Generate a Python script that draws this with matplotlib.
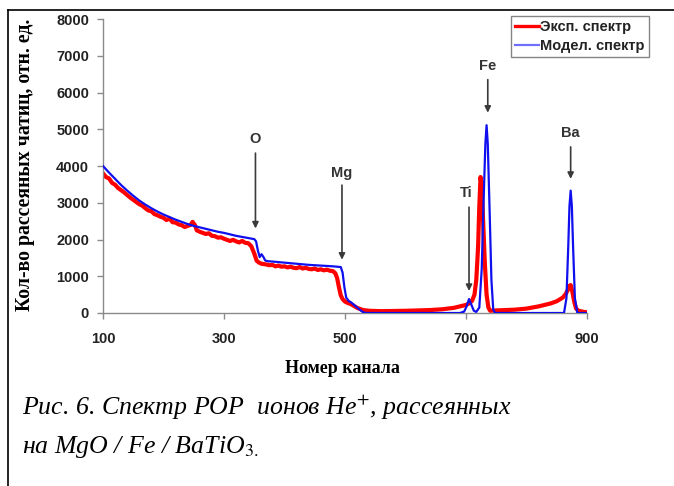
import matplotlib
matplotlib.use("Agg")
import matplotlib.pyplot as plt
from matplotlib.lines import Line2D

plt.rcParams['mathtext.fontset'] = 'stix'

# experimental spectrum (channel, counts)
exp_ch = [100, 105, 110, 115, 120, 125, 130, 135, 140, 145, 150, 155, 160, 165, 170,
          175, 180, 185, 190, 195, 200, 205, 210, 215, 220, 225, 230, 235, 240, 245,
          248, 252, 255, 260, 265, 270, 275, 280, 285, 290, 295, 300, 305, 310, 315,
          320, 325, 330, 335, 340, 345, 350, 354, 358, 362, 366, 370, 375, 380, 385,
          390, 395, 400, 405, 410, 415, 420, 425, 430, 435, 440, 445, 450, 455, 460,
          465, 470, 475, 480, 484, 487, 490, 493, 496, 500, 505, 510, 515, 520, 525,
          530, 540, 560, 600, 640, 660, 680, 690, 700, 705, 710, 714, 717, 720, 722,
          724, 726, 728, 731, 734, 737, 740, 750, 780, 800, 820, 840, 850, 860, 865,
          868, 871, 873, 876, 879, 882, 886, 895, 900]
exp_counts = [3800, 3700, 3660, 3540, 3490, 3400, 3340, 3280, 3210, 3140, 3080, 3020, 2960, 2920, 2850,
              2790, 2770, 2690, 2660, 2620, 2590, 2530, 2570, 2470, 2460, 2410, 2390, 2340, 2370, 2400,
              2480, 2390, 2250, 2210, 2180, 2150, 2170, 2100, 2090, 2050, 2060, 2020, 1990, 1960, 1990,
              1950, 1920, 1960, 1910, 1900, 1820, 1620, 1420, 1370, 1340, 1330, 1320, 1300, 1310, 1270,
              1290, 1260, 1270, 1240, 1260, 1230, 1220, 1250, 1210, 1230, 1200, 1190, 1210, 1170, 1190,
              1160, 1180, 1150, 1140, 1080, 950, 700, 480, 380, 310, 270, 240, 190, 140, 110,
              80, 60, 50, 60, 80, 100, 140, 180, 220, 260, 330, 500, 900, 1800, 2900,
              3700, 3450, 2600, 1400, 500, 150, 60, 70, 90, 120, 180, 260, 320, 420, 520,
              620, 740, 760, 560, 300, 120, 60, 30, 20]

# model spectrum (channel, counts)
mod_ch = [100, 110, 120, 130, 140, 150, 160, 170, 180, 190, 200, 210, 220, 230, 240,
          250, 260, 270, 280, 290, 300, 310, 320, 330, 340, 350, 353, 356, 359, 362,
          365, 368, 372, 380, 400, 420, 440, 460, 480, 493, 496, 499, 502, 506, 510,
          515, 520, 525, 530, 535, 690, 697, 701, 705, 709, 713, 717, 722, 726, 729,
          732, 734, 736, 739, 742, 745, 748, 862, 866, 869, 871, 873, 875, 877, 880,
          884, 900]
mod_counts = [4000, 3820, 3650, 3480, 3330, 3190, 3060, 2950, 2850, 2760, 2680, 2610, 2540, 2480, 2420,
              2370, 2330, 2290, 2250, 2210, 2180, 2140, 2100, 2070, 2040, 2010, 1950, 1700, 1520, 1600,
              1530, 1430, 1410, 1400, 1370, 1340, 1310, 1290, 1270, 1250, 1100, 700, 420, 330, 290,
              220, 150, 80, 20, 0, 0, 40, 180, 380, 220, 60, 30, 150, 1200, 3000,
              4600, 5110, 4600, 2800, 900, 100, 0, 0, 400, 1800, 2900, 3330, 2900, 1800, 400,
              0, 0]

series_labels = ['Эксп. спектр', 'Модел. спектр']

# element edges / peaks
elements = ['O', 'Mg', 'Ti', 'Fe', 'Ba']
element_ch = [352, 495, 705, 736, 873]

x_ticks = [100, 300, 500, 700, 900]
y_ticks = list(range(0, 8001, 1000))

fig = plt.figure(figsize=(6.74, 4.86), dpi=100)
ax = fig.add_axes([103 / 674, 1 - 313 / 486, 484 / 674, 294 / 486])

ax.plot(exp_ch, exp_counts, color='#ff0000', lw=3.0, zorder=2)
ax.plot(mod_ch, mod_counts, color='#1010ee', lw=1.6, zorder=3)

ax.set_xlim(100, 900)
ax.set_ylim(0, 8000)
ax.set_xticks(x_ticks)
ax.set_yticks(y_ticks)
for s in ['top', 'right']:
    ax.spines[s].set_visible(False)
for s in ['left', 'bottom']:
    ax.spines[s].set_color('#8a8a8a')
    ax.spines[s].set_linewidth(1.0)
ax.tick_params(axis='both', colors='#8a8a8a', length=4, width=1.0,
               labelcolor='#222222', labelsize=10.5)
ax.tick_params(axis='x', pad=10)
ax.tick_params(axis='y', pad=6)
for lab in ax.get_xticklabels() + ax.get_yticklabels():
    lab.set_fontfamily('Liberation Sans')
    lab.set_fontweight('bold')

fig.text(342 / 674, 1 - 373 / 486, 'Номер канала', family='Liberation Serif',
         fontweight='bold', fontsize=13, ha='center', va='baseline')
fig.text(25 / 674, 1 - 165 / 486, 'Кол-во рассеяных чатиц, отн. ед.',
         family='Liberation Serif', fontweight='bold', fontsize=14.2,
         rotation=90, ha='center', va='center')

# arrows with element names
label_y = [4730, 3810, 3260, 6720, 4900]
arrow_from = [4350, 3480, 2880, 6350, 4520]
arrow_to = [2300, 1450, 600, 5450, 3650]
label_dx = [0, 0, -4, 0, 0]
for name, ch, ly, a0, a1, dx in zip(elements, element_ch, label_y, arrow_from, arrow_to, label_dx):
    ax.annotate('', xy=(ch, a1), xytext=(ch, a0),
                arrowprops=dict(arrowstyle='-|>', color='#3a3a3a', lw=1.2,
                                mutation_scale=9, shrinkA=0, shrinkB=0))
    ax.text(ch + dx, ly, name, ha='center', va='center', fontsize=10.5,
            family='Liberation Sans', fontweight='bold', color='#333333')

handles = [Line2D([], [], color='#ff0000', lw=2.4),
           Line2D([], [], color='#7070ff', lw=1.6)]
leg = fig.legend(handles, series_labels, loc='upper right',
                 bbox_to_anchor=(649 / 674, 1 - 16 / 486),
                 prop={'family': 'Liberation Sans', 'weight': 'bold', 'size': 10.5},
                 frameon=True, fancybox=False, borderpad=0.3, handlelength=1.6,
                 handletextpad=0.1, labelspacing=0.3, borderaxespad=0)
leg.get_frame().set_edgecolor('#666666')
leg.get_frame().set_linewidth(1.0)
for t in leg.get_texts():
    t.set_color('#222222')

# outer frame
fig.add_artist(Line2D([8 / 674, 8 / 674], [0, 1 - 10 / 486], color='black', lw=1.2))
fig.add_artist(Line2D([8 / 674, 1], [1 - 10 / 486, 1 - 10 / 486], color='black', lw=1.2))

# caption
fig.text(22 / 674, 1 - 415 / 486, 'Рис. 6. Спектр РОР  ионов He$^{+}$, рассеянных',
         family='Liberation Serif', style='italic', fontsize=18.6, ha='left', va='baseline')
fig.text(22 / 674, 1 - 453 / 486, 'на MgO / Fe / BaTiO$_{\\mathit{3.}}$',
         family='Liberation Serif', style='italic', fontsize=18.6, ha='left', va='baseline')

fig.savefig('out.png', dpi=100)
